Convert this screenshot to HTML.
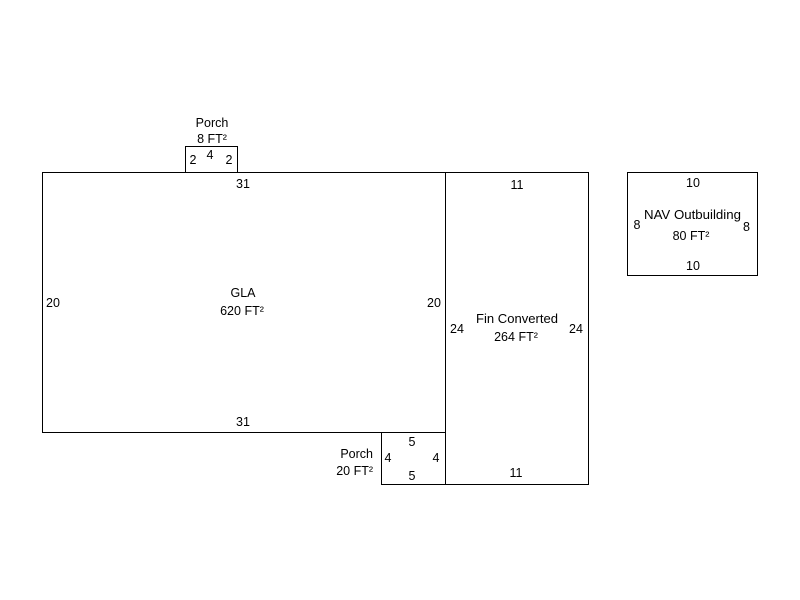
<!DOCTYPE html>
<html>
<head>
<meta charset="utf-8">
<style>
  html, body { margin: 0; padding: 0; background: #fff; }
  svg { display: block; }
  text { font-family: "Liberation Sans", Arial, sans-serif; font-size: 12.5px; fill: #000; }
</style>
</head>
<body>
<svg width="800" height="600" viewBox="0 0 800 600" xmlns="http://www.w3.org/2000/svg">
  <rect x="0" y="0" width="800" height="600" fill="#fff"/>
  <g fill="none" stroke="#000" stroke-width="1">
    <!-- GLA -->
    <rect x="42.5" y="172.5" width="403" height="260"/>
    <!-- Fin Converted -->
    <rect x="445.5" y="172.5" width="143" height="312"/>
    <!-- Porch top -->
    <rect x="185.5" y="146.5" width="52" height="26"/>
    <!-- Porch bottom -->
    <rect x="381.5" y="432.5" width="64" height="52"/>
    <!-- NAV Outbuilding -->
    <rect x="627.5" y="172.5" width="130" height="103"/>
  </g>

  <!-- GLA labels -->
  <text x="243" y="297" text-anchor="middle">GLA</text>
  <text x="242" y="315" text-anchor="middle">620 FT²</text>
  <text x="243" y="188" text-anchor="middle">31</text>
  <text x="243" y="426" text-anchor="middle">31</text>
  <text x="53" y="307" text-anchor="middle">20</text>
  <text x="434" y="307" text-anchor="middle">20</text>

  <!-- Fin Converted labels -->
  <text x="517" y="323" text-anchor="middle" textLength="82" lengthAdjust="spacingAndGlyphs">Fin Converted</text>
  <text x="516" y="341" text-anchor="middle">264 FT²</text>
  <text x="517" y="189" text-anchor="middle">11</text>
  <text x="516" y="477" text-anchor="middle">11</text>
  <text x="457" y="333" text-anchor="middle">24</text>
  <text x="576" y="333" text-anchor="middle">24</text>

  <!-- Porch top labels -->
  <text x="212" y="127" text-anchor="middle">Porch</text>
  <text x="212" y="143" text-anchor="middle">8 FT²</text>
  <text x="193" y="164" text-anchor="middle">2</text>
  <text x="210" y="159" text-anchor="middle">4</text>
  <text x="229" y="164" text-anchor="middle">2</text>

  <!-- Porch bottom labels -->
  <text x="373" y="458" text-anchor="end">Porch</text>
  <text x="373" y="475" text-anchor="end">20 FT²</text>
  <text x="412" y="446" text-anchor="middle">5</text>
  <text x="412" y="480" text-anchor="middle">5</text>
  <text x="388" y="462" text-anchor="middle">4</text>
  <text x="436" y="462" text-anchor="middle">4</text>

  <!-- NAV Outbuilding labels -->
  <text x="693" y="187" text-anchor="middle">10</text>
  <text x="692.5" y="219" text-anchor="middle" textLength="97" lengthAdjust="spacingAndGlyphs">NAV Outbuilding</text>
  <text x="691" y="240" text-anchor="middle">80 FT²</text>
  <text x="693" y="270" text-anchor="middle">10</text>
  <text x="637" y="229" text-anchor="middle">8</text>
  <text x="746.5" y="231" text-anchor="middle">8</text>
</svg>
</body>
</html>
